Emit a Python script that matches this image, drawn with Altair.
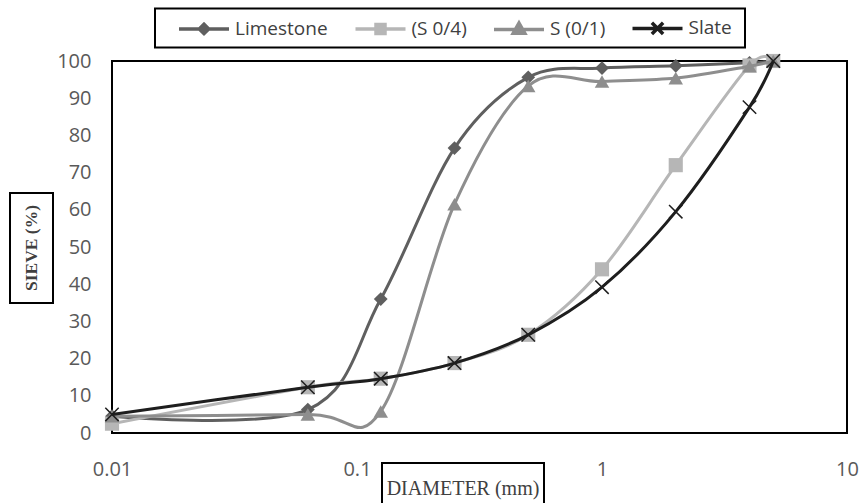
import altair as alt
import pandas as pd

# ---- data ----
diameters = [0.01, 0.063, 0.125, 0.25, 0.5, 1, 2, 4, 5]
series_names = ["Limestone", "(S 0/4)", "S (0/1)", "Slate"]
limestone = [4.5, 6.3, 36.0, 76.6, 95.6, 98.1, 98.7, 99.5, 100]
s04 = [2.5, 12.3, 14.6, 18.8, 26.4, 44.0, 72.0, 98.8, 100]
s01 = [4.5, 5.0, 5.8, 61.5, 93.3, 94.5, 95.4, 98.6, 100]
slate = [5.0, 12.3, 14.6, 18.8, 26.4, 39.2, 59.5, 87.6, 100]
x_ticks = [0.01, 0.1, 1, 10]
y_ticks = list(range(0, 101, 10))

colors = ["#5f5f5f", "#b6b6b6", "#8e8e8e", "#1e1e1e"]
values = [limestone, s04, s01, slate]

rows = []
for name, vals in zip(series_names, values):
    for d, v in zip(diameters, vals):
        rows.append({"series": name, "d": d, "v": v})
df = pd.DataFrame(rows)

X_PATH = "M-1,-1L1,1M-1,1L1,-1"
marker_shapes = ["diamond", "square", "triangle-up", X_PATH]
marker_sizes = [190, 200, 210, 180]

legend_paths = [
    "M-2,0H2M0,-0.38L0.38,0L0,0.38L-0.38,0Z",
    "M-2,0H2M-0.36,-0.36H0.36V0.36H-0.36Z",
    "M-2,0H2M0,-0.5L0.46,0.3H-0.46Z",
    "M-2,0H2M-0.45,-0.45L0.45,0.45M-0.45,0.45L0.45,-0.45",
]

xs = alt.X("d:Q", scale=alt.Scale(type="log", domain=[0.01, 10], nice=False),
           axis=alt.Axis(values=x_ticks, format="~g", domain=False, ticks=False, grid=False,
                         labelFlush=False, labelPadding=26, labelFontSize=20,
                         labelColor="#595959", labelFont="Open Sans", title=None))
ys = alt.Y("v:Q", scale=alt.Scale(domain=[0, 100], nice=False),
           axis=alt.Axis(values=y_ticks, domain=False, ticks=False, grid=False,
                         labelPadding=21, labelFontSize=20, labelColor="#595959",
                         labelFont="Open Sans", title=None))

base = alt.Chart(df)
layers = []
for i, name in enumerate(series_names):
    sub = base.transform_filter(alt.datum.series == name)
    layers.append(sub.mark_line(interpolate="cardinal", strokeWidth=3, color=colors[i]).encode(x=xs, y=ys))
    if i == 3:
        pt = sub.mark_point(shape=marker_shapes[i], size=marker_sizes[i], filled=False,
                            stroke=colors[i], strokeWidth=1.5, opacity=1)
    else:
        pt = sub.mark_point(shape=marker_shapes[i], size=marker_sizes[i], filled=True,
                            color=colors[i], opacity=1)
    layers.append(pt.encode(x=xs, y=ys))

anno = alt.Chart(pd.DataFrame({"k": [0]}))
legbox = anno.mark_rect(fill="white", stroke="black", strokeWidth=2).encode(
    x=alt.value(43), x2=alt.value(633), y=alt.value(-52.5), y2=alt.value(-13.5))

leg_props = dict(orient="none", legendX=77.5, legendY=-47.5, direction="horizontal", title=None,
                 symbolSize=625, symbolStrokeWidth=3.5, labelFontSize=19, labelFont="Open Sans",
                 labelColor="#404040", labelOffset=16.5, columnPadding=19.5, padding=0)
leg_df = pd.DataFrame({"series": series_names})
legend_layer = alt.Chart(leg_df).transform_filter("false").mark_point(filled=True, opacity=1).encode(
    fill=alt.Fill("series:N", scale=alt.Scale(domain=series_names, range=colors),
                  legend=alt.Legend(**leg_props)),
    stroke=alt.Stroke("series:N", scale=alt.Scale(domain=series_names, range=colors),
                      legend=alt.Legend(**leg_props)),
    shape=alt.Shape("series:N", scale=alt.Scale(domain=series_names, range=legend_paths),
                    legend=alt.Legend(**leg_props)),
)

ybox = anno.mark_rect(fill="white", stroke="black", strokeWidth=2).encode(
    x=alt.value(-102), x2=alt.value(-59), y=alt.value(132), y2=alt.value(242))
ytitle = anno.mark_text(text="SIEVE (%)", angle=270, font="Liberation Serif", fontSize=17.5,
                        fontWeight="bold", color="#404040", align="center", baseline="middle").encode(
    x=alt.value(-80), y=alt.value(187))
xbox = anno.mark_rect(fill="white", stroke="black", strokeWidth=2).encode(
    x=alt.value(270), x2=alt.value(432), y=alt.value(402), y2=alt.value(460))
xtitle = anno.mark_text(text="DIAMETER (mm)", font="Liberation Serif", fontSize=20,
                        color="#404040", align="center", baseline="middle").encode(
    x=alt.value(351), y=alt.value(428))

chart = alt.layer(legbox, *layers, legend_layer, ybox, ytitle, xbox, xtitle).properties(
    width=735, height=372, autosize="none",
    padding={"left": 112, "top": 61, "right": 12, "bottom": 70},
).configure_view(stroke="black", strokeWidth=2)

chart.save("out.html", embed_options={"renderer": "svg", "actions": False})
